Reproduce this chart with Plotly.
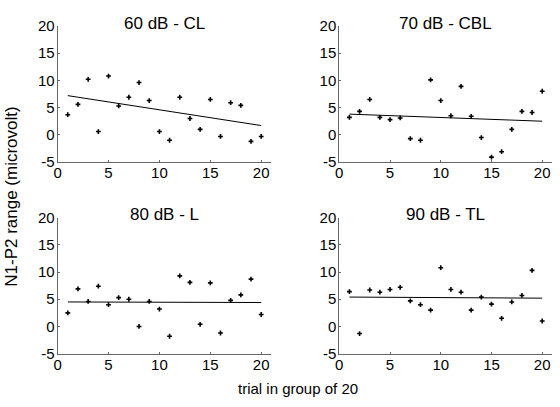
import plotly.graph_objects as go

trials = list(range(1, 21))

titles = ["60 dB - CL", "70 dB - CBL", "80 dB - L", "90 dB - TL"]

cl_60 = [3.7, 5.6, 10.2, 0.6, 10.8, 5.3, 6.9, 9.6, 6.3, 0.6,
         -1.0, 6.9, 3.0, 1.0, 6.5, -0.3, 5.9, 5.4, -1.2, -0.3]
cbl_70 = [3.2, 4.3, 6.5, 3.2, 2.8, 3.1, -0.7, -1.0, 10.1, 6.3,
          3.5, 8.9, 3.4, -0.5, -4.1, -3.1, 1.0, 4.3, 4.1, 8.0]
l_80 = [2.5, 6.9, 4.6, 7.4, 4.0, 5.3, 5.0, 0.0, 4.6, 3.2,
        -1.8, 9.3, 8.1, 0.4, 8.0, -1.2, 4.8, 5.8, 8.7, 2.2]
tl_90 = [6.4, -1.3, 6.7, 6.3, 6.8, 7.2, 4.7, 4.0, 3.0, 10.8,
         6.8, 6.3, 3.0, 5.4, 4.1, 1.5, 4.5, 5.7, 10.3, 1.0]

fit_x = [1, 20]
fit_60 = [7.2, 1.7]
fit_70 = [3.8, 2.5]
fit_80 = [4.5, 4.4]
fit_90 = [5.4, 5.2]

x_ticks = [0, 5, 10, 15, 20]
y_ticks = [-5, 0, 5, 10, 15, 20]
y_tick_labels = ["-5", "0", "5", "10", "15", "20"]

series = [cl_60, cbl_70, l_80, tl_90]
fits = [fit_60, fit_70, fit_80, fit_90]

W, H = 560, 407
# pixel boxes (left, right, top, bottom)
boxes = [(54, 269.3, 17.7, 159.7), (337.7, 552.3, 17.7, 159.7),
         (54, 269.3, 217.7, 359.7), (337.7, 552.3, 217.7, 359.7)]

fig = go.Figure()
font = "Liberation Sans, Arial, sans-serif"
axis_color = "#666666"

for i, (vals, fit, box) in enumerate(zip(series, fits, boxes)):
    n = "" if i == 0 else str(i + 1)
    xa, ya = "x" + n, "y" + n
    fig.add_trace(go.Scatter(x=trials, y=vals, mode="markers", xaxis=xa, yaxis=ya,
                             marker=dict(symbol="cross", size=4, color="black"),
                             showlegend=False, hoverinfo="skip"))
    fig.add_trace(go.Scatter(x=fit_x, y=fit, mode="lines", xaxis=xa, yaxis=ya,
                             line=dict(color="black", width=1),
                             showlegend=False, hoverinfo="skip"))
    l, r, t, b = box
    common = dict(showgrid=False, zeroline=False, showline=True, linecolor=axis_color,
                  linewidth=1, ticks="inside", ticklen=2, tickcolor=axis_color,
                  tickfont=dict(family=font, size=15, color="black"))
    fig.layout["xaxis" + n] = dict(common, domain=[l / W, r / W], range=[0, 21],
                                   tickvals=x_ticks, anchor=ya, ticklabelstandoff=-3)
    fig.layout["yaxis" + n] = dict(common, domain=[1 - b / H, 1 - t / H], range=[-5, 20],
                                   tickvals=y_ticks, ticktext=y_tick_labels,
                                   anchor=xa, ticklabelstandoff=-1)
    fig.add_annotation(text=titles[i], x=(l + r) / 2 / W, y=1 - (t - 3) / H,
                       xref="paper", yref="paper", showarrow=False,
                       font=dict(family=font, size=17, color="black"),
                       xanchor="center", yanchor="middle")

fig.add_annotation(text="N1-P2 range (microvolt)", x=8 / W, y=1 - 196 / H,
                   xref="paper", yref="paper", showarrow=False, textangle=-90,
                   font=dict(family=font, size=17, color="black"),
                   xanchor="center", yanchor="middle")
fig.add_annotation(text="trial in group of 20", x=296 / W, y=1 - 396 / H,
                   xref="paper", yref="paper", showarrow=False,
                   font=dict(family=font, size=15, color="black"),
                   xanchor="center", yanchor="middle")

fig.update_layout(width=W, height=H, margin=dict(l=0, r=0, t=0, b=0),
                  plot_bgcolor="white", paper_bgcolor="white")

fig.write_html("out.html", config={"displayModeBar": False},
               post_script="document.body.style.margin='0';document.body.style.overflow='hidden';")
